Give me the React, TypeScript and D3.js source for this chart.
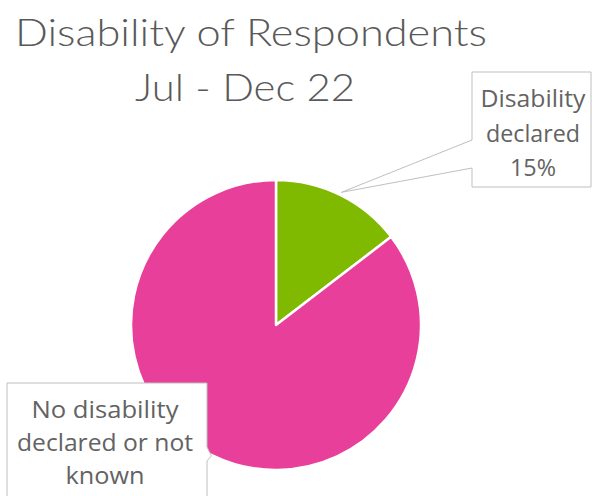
import React from "react";
import * as d3 from "d3";

const categories = ["Disability declared", "No disability declared or not known"];
const values = [14.6, 85.4];
const colors = ["#7FBA00", "#E8409A"];
const titleLines = ["Disability of Respondents", "Jul - Dec 22"];
const labelLinesDeclared = ["Disability", "declared", "15%"];
const labelLinesNone = ["No disability", "declared or not", "known"];

const W = 592;
const H = 496;
const cx = 276;
const cy = 325;
const R = 145;

export default function App() {
  const pie = d3.pie<number>().sort(null).startAngle(0).endAngle(2 * Math.PI);
  const arcs = pie(values);
  const arc = d3.arc<d3.PieArcDatum<number>>().innerRadius(0).outerRadius(R);

  const tipOf = (a: d3.PieArcDatum<number>, rr: number) => {
    const m = (a.startAngle + a.endAngle) / 2;
    return [cx + rr * Math.sin(m), cy - rr * Math.cos(m)];
  };
  const [t1x, t1y] = tipOf(arcs[0], R + 3);
  const [t2x, t2y] = tipOf(arcs[1], R + 1);

  const b1 = { x0: 472, y0: 72, x1: 591, y1: 187 };
  const call1 = `M${b1.x0},${b1.y0}L${b1.x1},${b1.y0}L${b1.x1},${b1.y1}L${b1.x0},${b1.y1}L${b1.x0},168L${t1x},${t1y}L${b1.x0},140Z`;
  const b2 = { x0: 7, y0: 383, x1: 207, y1: 530 };
  const call2 = `M${b2.x0},${b2.y0}L${b2.x1},${b2.y0}L${b2.x1},${t2y - 9}L${t2x},${t2y}L${b2.x1},${t2y + 5}L${b2.x1},${b2.y1}L${b2.x0},${b2.y1}Z`;

  const labelFont = "'Open Sans', 'Noto Sans', sans-serif";
  const declaredLens = [105, 94, 46];
  const noneLens = [147, 176, 79];
  return (
    <svg width={W} height={H} style={{ position: "absolute", left: 0, top: 0, background: "#fff" }}>
      <rect x={0} y={0} width={W} height={H} fill="#fff" />
      <text x={251} y={46} textAnchor="middle" fontFamily="Lato, 'Noto Sans', sans-serif" fontWeight={300} fontSize={37} fill="#595959" textLength={472} lengthAdjust="spacingAndGlyphs">
        {titleLines[0]}
      </text>
      <text x={245} y={101} textAnchor="middle" fontFamily="Lato, 'Noto Sans', sans-serif" fontWeight={300} fontSize={37} fill="#595959" textLength={220} lengthAdjust="spacingAndGlyphs">
        {titleLines[1]}
      </text>
      <g>
        {arcs.map((a, i) => (
          <path key={categories[i]} d={arc(a) || ""} transform={`translate(${cx},${cy})`} fill={colors[i]} stroke="#fff" strokeWidth={2.5} strokeLinejoin="round" />
        ))}
      </g>
      <path d={call1} fill="#fff" stroke="#BFBFBF" strokeWidth={1} />
      <path d={call2} fill="#fff" stroke="#BFBFBF" strokeWidth={1} />
      {labelLinesDeclared.map((s, i) => (
        <text key={s} x={533} y={107 + i * 34.5} textAnchor="middle" fontFamily={labelFont} fontSize={23} fill="#636363" textLength={declaredLens[i]} lengthAdjust="spacingAndGlyphs">
          {s}
        </text>
      ))}
      {labelLinesNone.map((s, i) => (
        <text key={s} x={105} y={418 + i * 33} textAnchor="middle" fontFamily={labelFont} fontSize={23} fill="#636363" textLength={noneLens[i]} lengthAdjust="spacingAndGlyphs">
          {s}
        </text>
      ))}
    </svg>
  );
}
